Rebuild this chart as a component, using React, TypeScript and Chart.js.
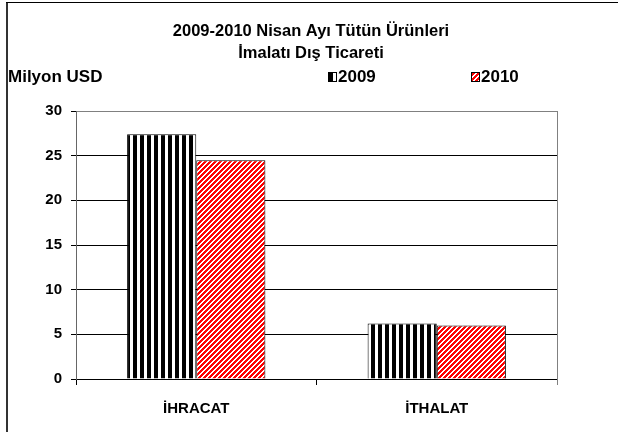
import React, { useEffect, useRef } from "react";
import { Chart, registerables } from "chart.js";

Chart.register(...registerables);

const TITLE_LINES = ["2009-2010 Nisan Ayı Tütün Ürünleri", "İmalatı Dış Ticareti"];
const Y_AXIS_TITLE = "Milyon USD";
const CATEGORIES = ["İHRACAT", "İTHALAT"];
const SERIES_LABELS = ["2009", "2010"];
const VALUES_2009 = [27.4, 6.2];
const VALUES_2010 = [24.5, 6.0];
const Y_MIN = 0;
const Y_MAX = 30;
const Y_STEP = 5;

const FONT = "'Liberation Sans', Arial, Helvetica, sans-serif";

function makeStripePattern(ctx: CanvasRenderingContext2D): CanvasPattern | string {
  const c = document.createElement("canvas");
  c.width = 7;
  c.height = 7;
  const g = c.getContext("2d")!;
  g.fillStyle = "#ffffff";
  g.fillRect(0, 0, 7, 7);
  g.fillStyle = "#000000";
  g.fillRect(0, 0, 4, 7);
  return ctx.createPattern(c, "repeat") || "#000";
}

function makeDiagPattern(ctx: CanvasRenderingContext2D): CanvasPattern | string {
  const n = 5;
  const c = document.createElement("canvas");
  c.width = n;
  c.height = n;
  const g = c.getContext("2d")!;
  const img = g.createImageData(n, n);
  for (let y = 0; y < n; y++) {
    for (let x = 0; x < n; x++) {
      const i = (y * n + x) * 4;
      const k = (x + y) % n;
      const red = k < 3;
      img.data[i] = 255;
      img.data[i + 1] = red ? 0 : 255;
      img.data[i + 2] = red ? 0 : 255;
      img.data[i + 3] = 255;
    }
  }
  g.putImageData(img, 0, 0);
  return ctx.createPattern(c, "repeat") || "#f00";
}

const decorPlugin = {
  id: "decor",
  beforeDraw(chart: any) {
    const ctx = chart.ctx as CanvasRenderingContext2D;
    ctx.save();
    ctx.fillStyle = "#ffffff";
    ctx.fillRect(0, 0, chart.width, chart.height);
    // outer frame
    ctx.fillStyle = "#333333";
    ctx.fillRect(6, 2, 2, chart.height - 2);
    ctx.fillStyle = "#000000";
    ctx.fillRect(6, 2, chart.width - 6, 1);
    ctx.restore();
  },
  afterDraw(chart: any) {
    const ctx = chart.ctx as CanvasRenderingContext2D;
    const area = chart.chartArea;
    ctx.save();
    // right plot-area border
    ctx.strokeStyle = "#808080";
    ctx.lineWidth = 1;
    ctx.beginPath();
    ctx.moveTo(Math.round(area.right) + 0.5, area.top);
    ctx.lineTo(Math.round(area.right) + 0.5, area.bottom + 6);
    ctx.stroke();

    // title
    ctx.fillStyle = "#000000";
    ctx.textAlign = "center";
    ctx.textBaseline = "middle";
    ctx.font = `bold 16.5px ${FONT}`;
    const titleY = [31, 53];
    TITLE_LINES.forEach((line, i) => ctx.fillText(line, 311, titleY[i]));

    // y axis title
    ctx.textAlign = "left";
    ctx.font = `bold 17px ${FONT}`;
    ctx.fillText(Y_AXIS_TITLE, 8, 77);

    // legend
    const legendX = [328, 471];
    chart.data.datasets.forEach((ds: any, i: number) => {
      const x = legendX[i];
      ctx.fillStyle = ds.backgroundColor;
      ctx.fillRect(x, 72, 8, 9);
      ctx.strokeStyle = "#000";
      ctx.strokeRect(x + 0.5, 72.5, 8, 9);
      ctx.fillStyle = "#000";
      ctx.fillText(ds.label, x + 10, 77);
    });
    ctx.restore();
  },
};

export default function App() {
  const ref = useRef<HTMLCanvasElement | null>(null);

  useEffect(() => {
    const canvas = ref.current!;
    const ctx = canvas.getContext("2d")!;
    const p2009 = makeStripePattern(ctx);
    const p2010 = makeDiagPattern(ctx);

    const chart = new Chart(canvas, {
      type: "bar",
      data: {
        labels: CATEGORIES,
        datasets: [
          {
            label: SERIES_LABELS[0],
            data: VALUES_2009,
            backgroundColor: p2009 as any,
            borderColor: "#000",
            borderWidth: 1,
            categoryPercentage: 0.575,
            barPercentage: 1,
          },
          {
            label: SERIES_LABELS[1],
            data: VALUES_2010,
            backgroundColor: p2010 as any,
            borderColor: "#000",
            borderWidth: 1,
            categoryPercentage: 0.575,
            barPercentage: 1,
          },
        ],
      },
      options: {
        responsive: false,
        animation: false,
        devicePixelRatio: 1,
        layout: { padding: { left: 0, right: 61, top: 111, bottom: 0 } },
        plugins: {
          legend: { display: false },
          title: { display: false },
          tooltip: { enabled: false },
        },
        scales: {
          x: {
            type: "category",
            grid: {
              offset: true,
              drawOnChartArea: false,
              drawTicks: true,
              tickLength: 6,
              color: "#000",
              tickColor: "#000",
            },
            border: { display: true, color: "#000", width: 1 },
            ticks: {
              color: "#000",
              font: { family: FONT, size: 15, weight: "bold" },
              padding: 15,
            },
            afterFit(scale: any) {
              scale.height = 53;
            },
          },
          y: {
            min: Y_MIN,
            max: Y_MAX,
            ticks: {
              stepSize: Y_STEP,
              color: "#000",
              font: { family: FONT, size: 15, weight: "bold" },
              padding: 9,
            },
            grid: {
              color: (c: any) => (c.tick && c.tick.value === Y_MAX ? "#808080" : "#000"),
              tickColor: "#000",
              tickLength: 5,
              drawTicks: true,
            },
            border: { display: true, color: "#666", width: 1 },
            afterFit(scale: any) {
              scale.width = 76;
            },
          },
        },
      },
      plugins: [decorPlugin],
    });
    return () => chart.destroy();
  }, []);

  return (
    <div style={{ position: "fixed", left: 0, top: 0, width: 618, height: 432, background: "#fff" }}>
      <canvas ref={ref} width={618} height={432} style={{ width: 618, height: 432, display: "block" }} />
    </div>
  );
}
